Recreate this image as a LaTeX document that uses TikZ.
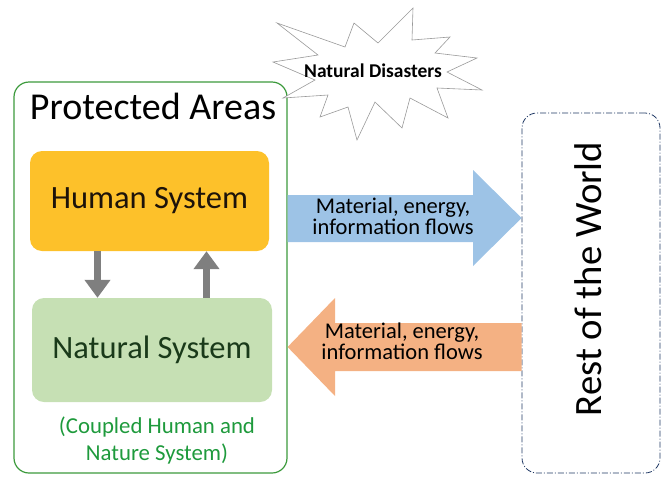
\documentclass[tikz,border=0pt]{standalone}
\usepackage{fontspec}
\setmainfont{Carlito}
\usetikzlibrary{arrows.meta, positioning, calc}
\definecolor{AreaGreen}{HTML}{3C9A3C}
\definecolor{NoteGreen}{HTML}{1E9A3C}
\definecolor{HumanGold}{HTML}{FDC12A}
\definecolor{NatureGreen}{HTML}{C6E0B4}
\definecolor{NatureText}{HTML}{1A3A1A}
\definecolor{FlowBlue}{HTML}{9DC3E6}
\definecolor{FlowSalmon}{HTML}{F4B183}
\definecolor{WorldNavy}{HTML}{1F3864}
\definecolor{LinkGray}{HTML}{7F7F7F}
\definecolor{StarGray}{HTML}{9A9A9A}
\tikzset{
    % Outer protected area frame
    area/.style={
        rectangle,
        draw=AreaGreen,
        line width=1.2pt,
        rounded corners=15pt,
        minimum width=273pt,
        minimum height=391pt
    },
    % Inner system boxes
    system/.style={
        rectangle,
        rounded corners=12pt,
        minimum width=240pt,
        minimum height=102pt,
        align=center,
        font=\fontsize{32.5}{36}\selectfont
    },
    % Rest of the world frame
    world/.style={
        rectangle,
        draw=WorldNavy,
        line width=0.8pt,
        dash pattern=on 6pt off 2pt on 1pt off 2pt,
        rounded corners=15pt,
        minimum width=138pt,
        minimum height=360pt
    },
    % Coupling arrows
    link/.style={
        -{Triangle[width=25pt, length=18pt]},
        line width=7pt,
        draw=LinkGray
    },
    % Flow label
    flowtext/.style={
        align=center,
        anchor=base,
        font=\fontsize{22.5}{18.8}\selectfont
    }
}

\begin{document}
\begin{tikzpicture}[x=1pt, y=-1pt]
    \useasboundingbox (0,0) rectangle (662,483);

    % Protected areas with the coupled system
    \node (area) [area] at (150.5,277.5) {};
    \node (title) [anchor=base, font=\fontsize{38}{40}\selectfont] at (153,119) {Protected Areas};
    \node (human) [system, fill=HumanGold, text=black!85!brown, minimum width=239pt, minimum height=100pt] at (149.5,201) {Human System};
    \node (natural) [system, fill=NatureGreen, text=NatureText, minimum height=104pt] at (152,350) {Natural System};
    \node (coupled) [anchor=base, align=center, text=NoteGreen, font=\fontsize{22.8}{27}\selectfont] at (157,460) {(Coupled Human and\\Nature System)};

    \draw [link] ([xshift=-52pt]human.south) -- ([xshift=-52pt]human.south |- natural.north);
    \draw [link] ([xshift=57pt]human.south |- natural.north) -- ([xshift=57pt]human.south);

    % Rest of the world
    \node (world) [world] at (591,293) {};
    \node (rest) [rotate=90, font=\fontsize{38.7}{40}\selectfont] at (588,279) {Rest of the World};

    % Flows in and out
    \fill [FlowBlue] (area.east |- 0,195) -- (473,195) -- (473,170) -- (world.west |- 0,218)
        -- (473,266) -- (473,242) -- (area.east |- 0,242) -- cycle;
    \node (outflow) [flowtext] at (393,234) {Material, energy,\\information flows};
    \fill [FlowSalmon] (world.west |- 0,323) -- (335,323) -- (335,298) -- (area.east |- 0,347)
        -- (335,396) -- (335,371) -- (world.west |- 0,371) -- cycle;
    \node (inflow) [flowtext] at (402,359) {Material, energy,\\information flows};

    % Natural disasters burst
    \draw [StarGray, line width=0.6pt, fill=white] (277,23) -- (345,47) -- (354,23) -- (378,43)
        -- (413,8) -- (412,40) -- (450,37) -- (435,53) -- (477,58) -- (447,72) -- (482,90)
        -- (437,88) -- (448,118) -- (410,98) -- (402,128) -- (375,102) -- (357,140)
        -- (348,107) -- (320,117) -- (328,95) -- (283,98) -- (315,80) -- (273,62)
        -- (318,55) -- cycle;
    \node (disaster) [anchor=base, font=\fontsize{19.5}{20}\selectfont\bfseries] at (373,77) {Natural Disasters};
\end{tikzpicture}
\end{document}
